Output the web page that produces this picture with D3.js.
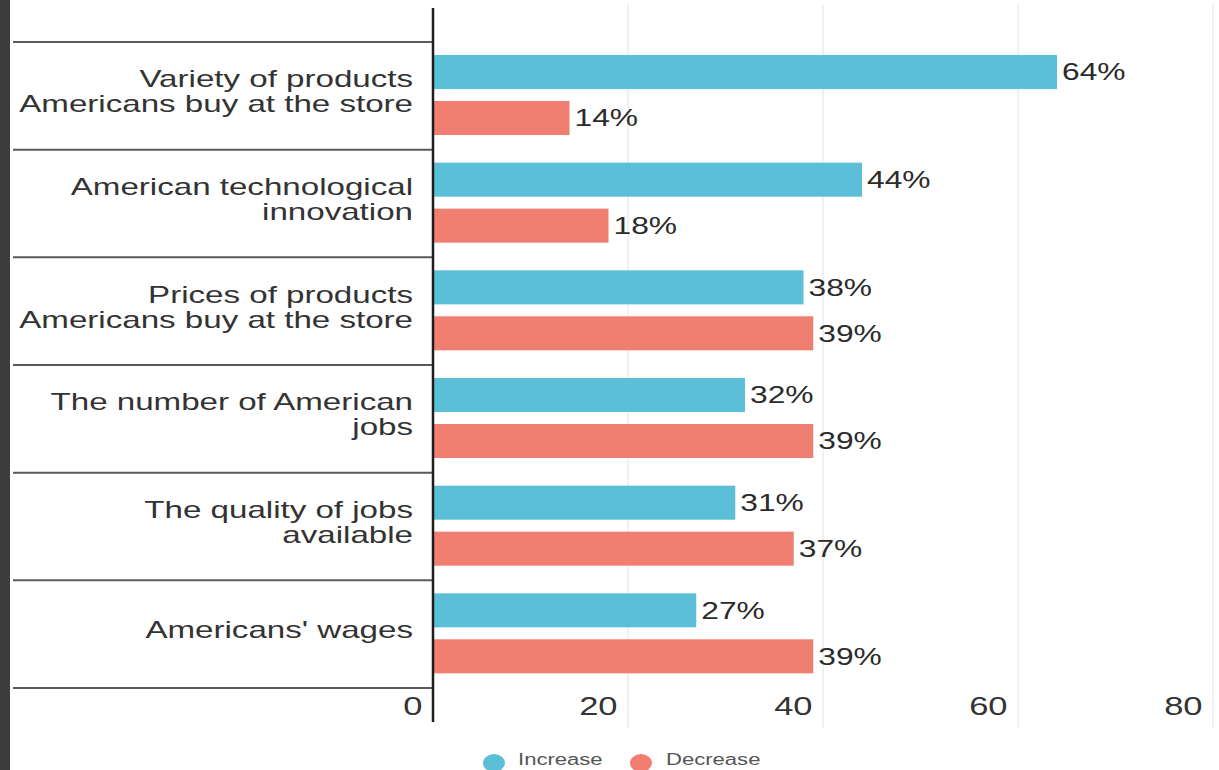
<!DOCTYPE html>
<html>
<head>
<meta charset="utf-8">
<script src="https://cdn.jsdelivr.net/npm/d3@7"></script>
<style>
  html, body { margin: 0; padding: 0; background: #ffffff; }
  svg { display: block; }
  text { font-family: "Liberation Sans", Arial, sans-serif; }
</style>
</head>
<body>
<script>
// ---- data ----
const categories = [
  ["Variety of products", "Americans buy at the store"],
  ["American technological", "innovation"],
  ["Prices of products", "Americans buy at the store"],
  ["The number of American", "jobs"],
  ["The quality of jobs", "available"],
  ["Americans' wages"]
];
const seriesNames = ["Increase", "Decrease"];
const increaseValues = [64, 44, 38, 32, 31, 27];
const decreaseValues = [14, 18, 39, 39, 37, 39];
const xTickValues = [0, 20, 40, 60, 80];

// ---- layout / style ----
const W = 1219, H = 770;
const SX = 1.38; // horizontal text stretch to match the reference's wide type
const colors = { Increase: "#5bbfd7", Decrease: "#f07e71" };

const svg = d3.select("body").append("svg").attr("width", W).attr("height", H);

// left dark frame strip
svg.append("rect").attr("x", 0).attr("y", 0).attr("width", 10).attr("height", H).attr("fill", "#3c3c3c");

const catKeys = categories.map((c, i) => "c" + i);
const x = d3.scaleLinear().domain([0, 80]).range([433, 1213]);
const y = d3.scaleBand().domain(catKeys).range([42, 688]).padding(0);
const ySub = d3.scaleBand().domain(seriesNames).range([13, 93]).paddingInner(0.26).paddingOuter(0);

// gridlines
svg.append("g").selectAll("line").data(xTickValues.filter(v => v > 0)).join("line")
  .attr("x1", d => x(d)).attr("x2", d => x(d))
  .attr("y1", 5).attr("y2", 728)
  .attr("stroke", "#ececec").attr("stroke-width", 1.5);

// category separators
const sepYs = catKeys.map(k => y(k)).concat([y(catKeys[catKeys.length - 1]) + y.step()]);
svg.append("g").selectAll("line").data(sepYs).join("line")
  .attr("x1", 13).attr("x2", x(0))
  .attr("y1", d => d).attr("y2", d => d)
  .attr("stroke", "#5a5a5a").attr("stroke-width", 2);

// bars
const rows = categories.map((c, i) => ({
  key: catKeys[i], label: c,
  vals: [{ s: "Increase", v: increaseValues[i] }, { s: "Decrease", v: decreaseValues[i] }]
}));

const groups = svg.append("g").selectAll("g").data(rows).join("g")
  .attr("transform", d => `translate(0,${y(d.key)})`);

groups.selectAll("rect").data(d => d.vals).join("rect")
  .attr("x", x(0))
  .attr("y", d => ySub(d.s))
  .attr("width", d => x(d.v) - x(0))
  .attr("height", ySub.bandwidth())
  .attr("fill", d => colors[d.s]);

// value labels
groups.selectAll("g.val").data(d => d.vals).join("g").attr("class", "val")
  .attr("transform", d => `translate(${x(d.v) + 5},${ySub(d.s) + ySub.bandwidth() / 2}) scale(${SX},1)`)
  .append("text")
  .attr("dy", "0.36em")
  .attr("font-size", 23)
  .attr("fill", "#2b2b2b")
  .text(d => d.v + "%");

// category labels
groups.each(function (d) {
  const g = d3.select(this);
  const n = d.label.length;
  const lh = 25;
  const cy = y.bandwidth() / 2;
  d.label.forEach((line, j) => {
    const by = cy + 4 + (j - (n - 1) / 2) * lh + (n > 1 ? 0 : 0);
    g.append("g")
      .attr("transform", `translate(413,${by}) scale(${SX},1)`)
      .append("text")
      .attr("text-anchor", "end")
      .attr("font-size", 24)
      .attr("fill", "#333")
      .text(line);
  });
});

// x axis
const axis = d3.axisBottom(x).tickValues(xTickValues).tickSize(0).tickFormat(d3.format("d"));
const ax = svg.append("g").attr("transform", "translate(0,688)").call(axis);
ax.select(".domain").remove();
ax.selectAll(".tick text")
  .attr("text-anchor", "end")
  .attr("x", -11 / SX)
  .attr("y", 27)
  .attr("dy", 0)
  .attr("transform", `scale(${SX},1)`)
  .attr("font-size", 25)
  .attr("font-family", "Liberation Sans, Arial, sans-serif")
  .attr("fill", "#333");

// zero axis line
svg.append("line")
  .attr("x1", x(0)).attr("x2", x(0))
  .attr("y1", 8).attr("y2", 722)
  .attr("stroke", "#1e1e1e").attr("stroke-width", 2.5);

// legend
const legendItems = [
  { s: "Increase", cx: 494, tx: 518 },
  { s: "Decrease", cx: 641, tx: 666 }
];
const lg = svg.append("g");
legendItems.forEach(it => {
  lg.append("ellipse").attr("cx", it.cx).attr("cy", 763).attr("rx", 11).attr("ry", 9)
    .attr("fill", colors[it.s]);
  lg.append("g").attr("transform", `translate(${it.tx},765) scale(${SX},1)`)
    .append("text").attr("font-size", 16).attr("fill", "#555").text(it.s);
});
</script>
</body>
</html>
